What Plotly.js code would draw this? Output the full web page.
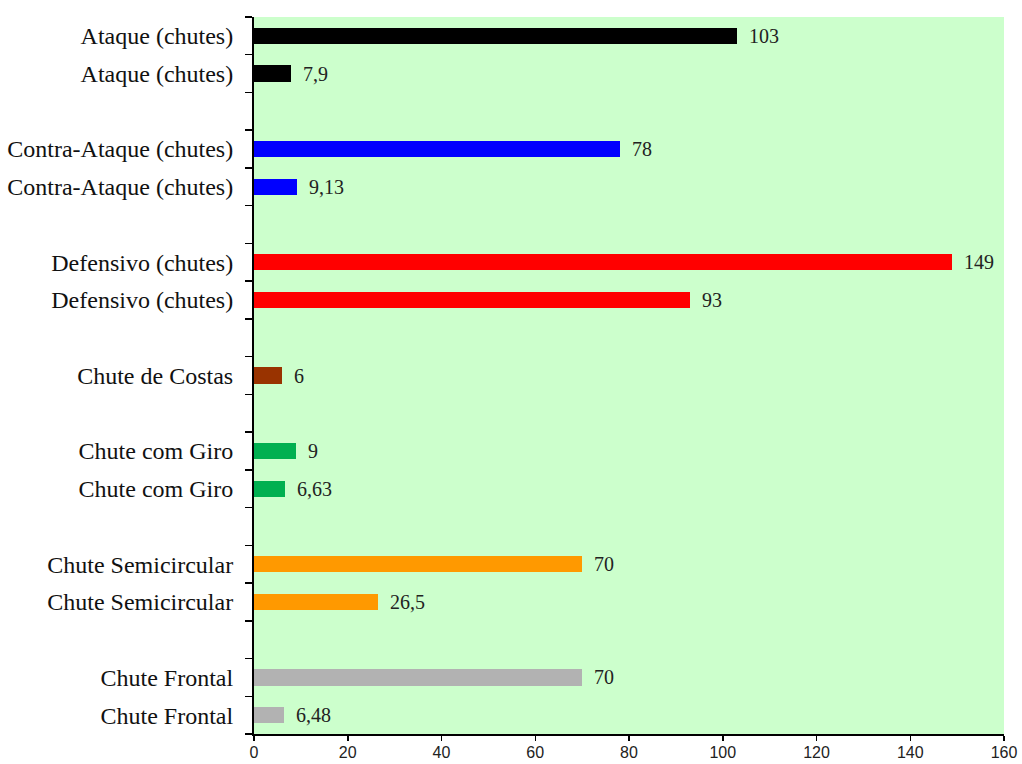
<!DOCTYPE html>
<html>
<head>
<meta charset="utf-8">
<script src="https://cdn.plot.ly/plotly-3.0.1.min.js"></script>
<style>
  html, body { margin: 0; padding: 0; background: #ffffff; }
  #chart { width: 1022px; height: 764px; }
</style>
</head>
<body>
<div id="chart"></div>
<script>
// Row labels from top to bottom; empty strings are spacer rows between groups
const rowLabels = [
  'Ataque (chutes)', 'Ataque (chutes)', '',
  'Contra-Ataque (chutes)', 'Contra-Ataque (chutes)', '',
  'Defensivo (chutes)', 'Defensivo (chutes)', '',
  'Chute de Costas', '',
  'Chute com Giro', 'Chute com Giro', '',
  'Chute Semicircular', 'Chute Semicircular', '',
  'Chute Frontal', 'Chute Frontal'
];

// Bar values (null on spacer rows)
const rowValues = [
  103, 7.9, null,
  78, 9.13, null,
  149, 93, null,
  6, null,
  9, 6.63, null,
  70, 26.5, null,
  70, 6.48
];

// Bar colours per row
const rowColors = [
  '#000000', '#000000', null,
  '#0000FF', '#0000FF', null,
  '#FF0000', '#FF0000', null,
  '#993300', null,
  '#00B050', '#00B050', null,
  '#FF9900', '#FF9900', null,
  '#B2B2B2', '#B2B2B2'
];

const xTicks = [0, 20, 40, 60, 80, 100, 120, 140, 160];

// unique category keys so repeated labels get their own rows
const rowKeys = rowLabels.map((_, i) => 'row' + i);

const trace = {
  type: 'bar',
  orientation: 'h',
  x: rowValues,
  y: rowKeys,
  width: 0.43,
  marker: { color: rowColors.map(c => c || '#000000'), line: { width: 0 } },
  hoverinfo: 'x+y',
  showlegend: false
};

const fmt = v => String(v).replace('.', ',');

const annotations = rowValues.map((v, i) => v == null ? null : ({
  x: v, y: rowKeys[i], xref: 'x', yref: 'y',
  text: fmt(v), showarrow: false,
  xanchor: 'left', yanchor: 'middle', xshift: 10,
  font: { family: 'Liberation Serif, Times New Roman, serif', size: 20, color: '#222222' }
})).filter(a => a);

const layout = {
  width: 1022, height: 764,
  margin: { l: 254, r: 18, t: 17, b: 30, pad: 0 },
  paper_bgcolor: '#ffffff',
  plot_bgcolor: '#CCFFCC',
  bargap: 0,
  separators: ',.',
  xaxis: {
    range: [0, 160],
    tickmode: 'array', tickvals: xTicks,
    ticks: 'outside', ticklen: 5, tickwidth: 1.5, tickcolor: '#000000',
    ticklabelstandoff: -2,
    showgrid: false, zeroline: false,
    showline: true, linecolor: '#000000', linewidth: 2,
    tickfont: { family: 'Liberation Sans, Arial, sans-serif', size: 16, color: '#222222' },
    fixedrange: true
  },
  yaxis: {
    type: 'category',
    categoryorder: 'array', categoryarray: rowKeys,
    range: [rowKeys.length - 0.5, -0.5],
    tickmode: 'array', tickvals: rowKeys, ticktext: rowLabels,
    tickson: 'boundaries',
    ticks: 'outside', ticklen: 7, tickwidth: 1.5, tickcolor: '#000000',
    ticklabelstandoff: 14,
    showgrid: false, zeroline: false,
    showline: true, linecolor: '#000000', linewidth: 2,
    tickfont: { family: 'Liberation Serif, Times New Roman, serif', size: 24, color: '#111111' },
    fixedrange: true
  },
  annotations: annotations
};

Plotly.newPlot('chart', [trace], layout, { displayModeBar: false, staticPlot: true });
</script>
</body>
</html>
